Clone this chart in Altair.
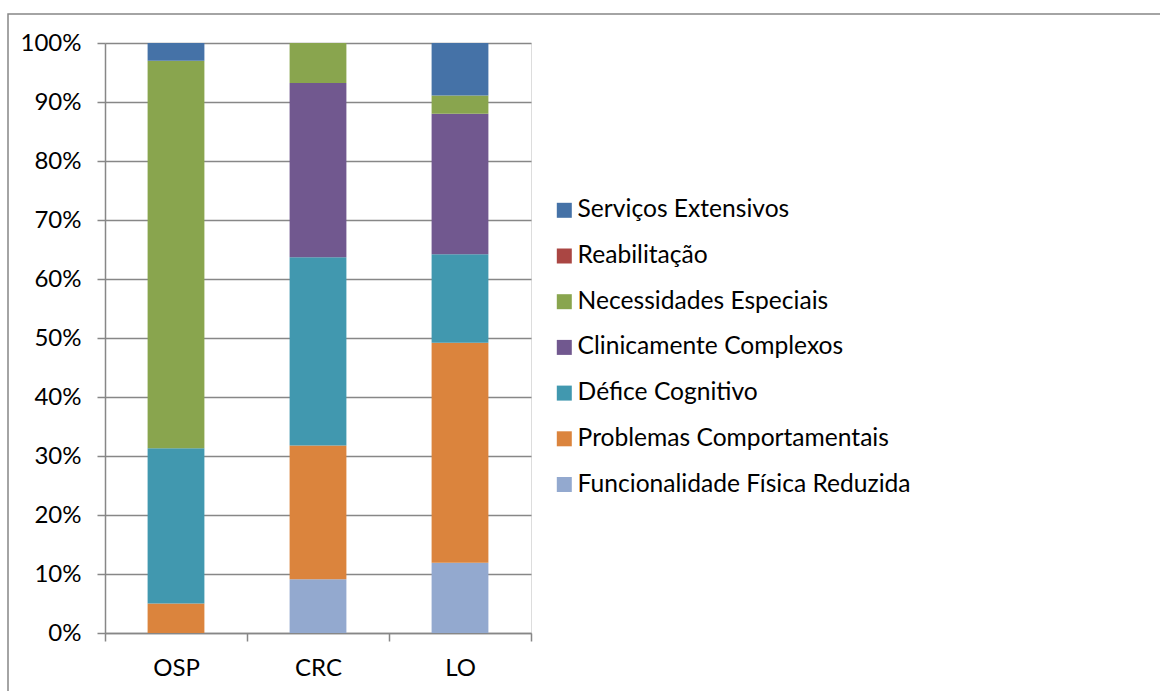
import altair as alt
import pandas as pd

groups = ["OSP", "CRC", "LO"]
# stacking order: bottom -> top
categories = [
    "Funcionalidade Física Reduzida",
    "Problemas Comportamentais",
    "Défice Cognitivo",
    "Clinicamente Complexos",
    "Necessidades Especiais",
    "Reabilitação",
    "Serviços Extensivos",
]
colors_bottom_up = ["#93A9CF", "#DB843D", "#4198AF", "#71588F", "#89A54E", "#AA4643", "#4572A7"]

osp = [0.0, 5.0, 26.3, 0.0, 65.7, 0.0, 3.0]
crc = [9.1, 22.7, 31.9, 29.5, 6.8, 0.0, 0.0]
lo = [11.9, 37.3, 15.0, 23.8, 3.1, 0.0, 8.9]

rows = []
for g, vals in zip(groups, [osp, crc, lo]):
    for i, (c, v) in enumerate(zip(categories, vals)):
        rows.append({"grupo": g, "categoria": c, "valor": v, "ordem": i})
df = pd.DataFrame(rows)

legend_order = categories[::-1]
legend_colors = colors_bottom_up[::-1]

FONT = "Lato"
GRAY = "#878787"

bars = alt.Chart(df).mark_bar(width=alt.RelativeBandSize(0.4)).encode(
    x=alt.X(
        "grupo:N",
        sort=groups,
        scale=alt.Scale(paddingInner=0, paddingOuter=0),
        axis=alt.Axis(
            title=None, labelAngle=0, tickBand="extent", grid=False,
            tickSize=8, tickColor=GRAY, tickWidth=1.5,
            domainColor=GRAY, domainWidth=1.5,
            labelFont=FONT, labelFontSize=24, labelColor="black", labelPadding=15,
        ),
    ),
    y=alt.Y(
        "valor:Q",
        stack="normalize",
        scale=alt.Scale(domain=[0, 1]),
        axis=alt.Axis(
            title=None, format=".0%", values=[i / 10 for i in range(11)],
            grid=True, gridColor=GRAY, gridWidth=1.5,
            tickSize=8, tickColor=GRAY, tickWidth=1.5,
            domainColor=GRAY, domainWidth=1.5,
            labelFont=FONT, labelFontSize=24, labelColor="black", labelPadding=16,
        ),
    ),
    color=alt.Color(
        "categoria:N",
        scale=alt.Scale(domain=legend_order, range=legend_colors),
        legend=alt.Legend(
            title=None, orient="none", legendX=447, legendY=155,
            symbolType="square", symbolSize=225, symbolStrokeWidth=0,
            labelFont=FONT, labelFontSize=24.6, labelColor="black",
            labelOffset=1, rowPadding=20.7, padding=0, labelLimit=500,
        ),
    ),
    order=alt.Order("ordem:Q", sort="ascending"),
)

frame = alt.Chart(pd.DataFrame({"a": [0]})).mark_rect(
    fill=None, stroke=GRAY, strokeWidth=1.5
).encode(
    x=alt.value(-97), x2=alt.value(1100), y=alt.value(-29), y2=alt.value(700)
)

chart = alt.layer(frame, bars).properties(
    width=426,
    height=590,
    autosize=alt.AutoSizeParams(type="none"),
    padding={"left": 105, "top": 43, "right": 629, "bottom": 58},
).configure_view(strokeWidth=0, stroke="transparent").configure(background="white")

chart.save("out.html", embed_options={"renderer": "svg", "actions": False})
